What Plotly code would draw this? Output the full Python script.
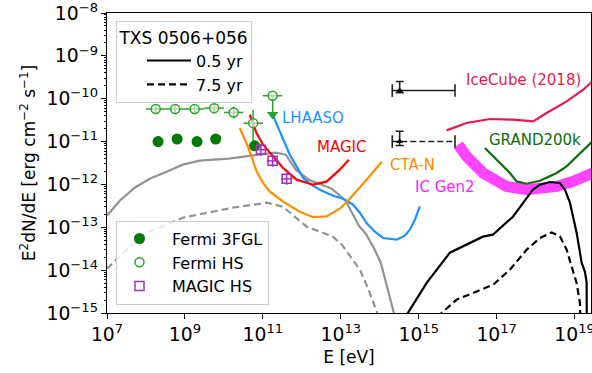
import numpy as np
import plotly.graph_objects as go

# ---------------- data: log10(E / eV), log10(E^2 dN/dE / erg cm^-2 s^-1) ----------------
gamma05_logE = [7.0, 7.326, 7.711, 8.096, 8.532, 8.943, 9.380, 10.123, 10.893, 11.330, 11.587,
                11.843, 12.177, 12.511, 12.768, 13.127, 13.281, 13.461, 13.641, 13.846, 14.026,
                14.180, 14.360, 14.437]
gamma05_logF = [-12.729, -12.379, -12.076, -11.866, -11.703, -11.539, -11.446, -11.399, -11.306,
                -11.259, -11.306, -11.656, -11.889, -12.006, -12.099, -12.379, -12.636, -12.963,
                -13.149, -13.476, -13.826, -14.363, -14.993, -15.389]

gamma75_logE = [7.0, 7.506, 8.096, 8.943, 10.227, 11.100, 11.511, 12.127, 12.795, 13.026, 13.231,
                13.488, 13.693, 13.924, 14.001]
gamma75_logF = [-13.966, -13.523, -13.103, -12.776, -12.543, -12.426, -12.519, -12.986, -13.219,
                -13.406, -13.663, -13.989, -14.409, -14.969, -15.272]

nu05_logE = [14.566, 14.720, 15.208, 15.798, 16.646, 16.902, 17.416, 17.929, 18.109, 18.366,
             18.622, 18.751, 18.879, 19.051, 19.180, 19.264, 19.308, 19.313]
nu05_logF = [-15.389, -15.0, -14.293, -13.593, -13.219, -13.173, -12.753, -12.123, -12.006, -11.943,
             -11.966, -12.123, -12.426, -13.126, -13.826, -14.036, -14.293, -15.389]

nu75_logE = [15.490, 15.585, 15.970, 16.569, 16.910, 17.339, 17.768, 18.109, 18.409, 18.622,
             18.795, 18.923, 19.051, 19.136, 19.154]
nu75_logF = [-15.389, -15.0, -14.689, -14.456, -14.339, -13.989, -13.523, -13.250, -13.119, -13.212,
             -13.523, -13.912, -14.300, -14.766, -15.389]

lhaaso_logE = [11.228, 11.357, 11.519, 11.691, 11.863, 12.032, 12.204, 12.461, 12.802, 13.059,
               13.316, 13.488, 13.660, 13.873, 14.086, 14.430, 14.643, 14.772, 14.900, 15.028]
lhaaso_logF = [-10.326, -10.606, -10.956, -11.306, -11.579, -11.843, -11.983, -12.123, -12.263,
               -12.333, -12.473, -12.659, -12.900, -13.103, -13.250, -13.289, -13.196, -13.056,
               -12.823, -12.512]

magic_logE = [10.664, 10.836, 11.005, 11.262, 11.519, 11.863, 12.289, 12.633, 12.974, 13.205]
magic_logF = [-10.373, -10.800, -11.073, -11.346, -11.616, -11.889, -12.006, -11.936, -11.656, -11.423]

cta_logE = [10.407, 10.579, 10.707, 10.836, 11.005, 11.177, 11.519, 11.947, 12.289, 12.633,
            12.974, 13.231, 13.660, 14.053]
cta_logF = [-10.683, -11.033, -11.346, -11.696, -11.966, -12.169, -12.403, -12.636, -12.764,
            -12.746, -12.566, -12.333, -11.889, -11.469]

icecube_logE = [15.714, 16.227, 16.825, 17.424, 17.937, 18.281, 18.795, 19.221, 19.418, 19.6]
icecube_logF = [-10.739, -10.566, -10.473, -10.490, -10.529, -10.333, -10.063, -9.790, -9.626, -9.47]

grand_logE = [16.697, 16.997, 17.339, 17.511, 17.768, 18.109, 18.538, 18.795, 19.221, 19.418, 19.6]
grand_logF = [-11.150, -11.423, -11.733, -11.929, -11.983, -11.913, -11.733, -11.579, -11.189,
              -11.026, -10.88]

gen2_logE = [16.012, 16.227, 16.653, 17.254, 17.768, 18.109, 18.538, 18.964, 19.418, 19.6]
gen2_logF = [-11.073, -11.346, -11.733, -12.046, -12.123, -12.099, -12.046, -11.929, -11.749, -11.68]

# Fermi 3FGL
fgl_logE = [8.31, 8.80, 9.31, 9.79, 10.79]
fgl_logF = [-11.00, -10.94, -11.00, -10.94, -11.10]
fgl_err_dex = [0.04, 0.04, 0.04, 0.04, 0.05]

# Fermi HS (high state)
hs_logE = [8.25, 8.75, 9.25, 9.75, 10.25, 10.75]
hs_logF = [-10.24, -10.24, -10.24, -10.22, -10.32, -10.57]
hs_err_up_dex = [0.11, 0.11, 0.11, 0.11, 0.14, 0.31]
hs_err_dn_dex = [0.12, 0.12, 0.12, 0.12, 0.14, 0.50]
hs_bin_dex = 0.25
hs_ul_logE = [11.25]
hs_ul_logF = [-9.93]
hs_ul_tip_logF = [-10.37]

# MAGIC HS
mhs_logE = [10.95, 11.25, 11.61]
mhs_logF = [-11.19, -11.45, -11.87]
mhs_bin_dex = 0.15
mhs_err_dex = 0.14

# IceCube TXS 0506+056 neutrino fluxes
ic_logE = [14.51, 14.51]
ic_logE_lo = [14.32, 14.32]
ic_logE_hi = [15.93, 15.93]
ic_logF = [-9.81, -11.00]
ic_logF_up = [-9.60, -10.76]
ic_logF_dn = [-9.86, -11.09]

# curve labels: (text, log10 E, log10 F, colour)
labels = [("LHAASO", 11.434, -10.443, "#1e90ff"),
          ("MAGIC", 12.332, -11.119, "#ff0000"),
          ("CTA-N", 14.207, -11.539, "#ff8c00"),
          ("IC Gen2", 14.841, -12.053, "#ff22ff"),
          ("IceCube (2018)", 16.158, -9.556, "#e8174f"),
          ("GRAND200k", 16.741, -10.956, "#0b6e0b")]

p = lambda a: 10 ** np.asarray(a, dtype=float)

FONT = "DejaVu Sans"
fig = go.Figure()

GRAY = "#939393"
fig.add_trace(go.Scatter(x=p(gamma05_logE), y=p(gamma05_logF), mode="lines",
                         line=dict(color=GRAY, width=2.2), showlegend=False, hoverinfo="skip"))
fig.add_trace(go.Scatter(x=p(gamma75_logE), y=p(gamma75_logF), mode="lines",
                         line=dict(color=GRAY, width=2.2, dash="7px,4px"), showlegend=False, hoverinfo="skip"))

# sensitivity curves
fig.add_trace(go.Scatter(x=p(gen2_logE), y=p(gen2_logF), mode="lines",
                         line=dict(color="#ff44ff", width=11), showlegend=False))
fig.add_trace(go.Scatter(x=p(lhaaso_logE), y=p(lhaaso_logF), mode="lines",
                         line=dict(color="#1e90ff", width=2.2), showlegend=False))
fig.add_trace(go.Scatter(x=p(cta_logE), y=p(cta_logF), mode="lines",
                         line=dict(color="#ff8c00", width=2.2), showlegend=False))
fig.add_trace(go.Scatter(x=p(magic_logE), y=p(magic_logF), mode="lines",
                         line=dict(color="#ff0000", width=2.2), showlegend=False))
fig.add_trace(go.Scatter(x=p(icecube_logE), y=p(icecube_logF), mode="lines",
                         line=dict(color="#e8174f", width=2.2), showlegend=False))
fig.add_trace(go.Scatter(x=p(grand_logE), y=p(grand_logF), mode="lines",
                         line=dict(color="#0b6e0b", width=2.2), showlegend=False))

# neutrino model curves (legend 1)
fig.add_trace(go.Scatter(x=p(nu05_logE), y=p(nu05_logF), mode="lines", name="0.5 yr",
                         line=dict(color="black", width=2.2), legend="legend"))
fig.add_trace(go.Scatter(x=p(nu75_logE), y=p(nu75_logF), mode="lines", name="7.5 yr",
                         line=dict(color="black", width=2.2, dash="7px,4px"), legend="legend"))

# IceCube measured fluxes
for i, dash in enumerate(["solid", "6px,3px"]):
    fig.add_trace(go.Scatter(x=p([ic_logE_lo[i], ic_logE_hi[i]]), y=p([ic_logF[i], ic_logF[i]]),
                             mode="lines+markers",
                             line=dict(color="#222222", width=1.6, dash=dash),
                             marker=dict(symbol="line-ns-open", size=9,
                                         line=dict(color="#222222", width=1.6)),
                             showlegend=False))
    E = p([ic_logE[i]])
    F = p([ic_logF[i]])
    fig.add_trace(go.Scatter(x=E, y=F, mode="markers",
                             marker=dict(symbol="triangle-up", size=6, color="black"),
                             error_y=dict(type="data", symmetric=False,
                                          array=p([ic_logF_up[i]]) - F,
                                          arrayminus=F - p([ic_logF_dn[i]]),
                                          color="#222222", thickness=1.6, width=4),
                             showlegend=False))

# Fermi HS
hsE = p(hs_logE)
hsF = p(hs_logF)
fig.add_trace(go.Scatter(
    x=hsE, y=hsF, mode="markers", name="Fermi HS", legend="legend2", legendrank=2,
    marker=dict(symbol="circle", size=9, color="rgba(255,255,255,0.6)",
                line=dict(color="#2ca02c", width=1.5)),
    error_x=dict(type="data", symmetric=False, array=hsE * (10 ** hs_bin_dex - 1),
                 arrayminus=hsE * (1 - 10 ** -hs_bin_dex), color="#2ca02c", thickness=1.5, width=0),
    error_y=dict(type="data", symmetric=False, array=hsF * (10 ** np.array(hs_err_up_dex) - 1),
                 arrayminus=hsF * (1 - 10 ** -np.array(hs_err_dn_dex)), color="#2ca02c",
                 thickness=1.5, width=0)))
ulE = p(hs_ul_logE)
ulF = p(hs_ul_logF)
fig.add_trace(go.Scatter(
    x=ulE, y=ulF, mode="markers", showlegend=False,
    marker=dict(symbol="circle", size=9, color="rgba(255,255,255,0.6)",
                line=dict(color="#2ca02c", width=1.5)),
    error_x=dict(type="data", symmetric=False, array=ulE * (10 ** hs_bin_dex - 1),
                 arrayminus=ulE * (1 - 10 ** -hs_bin_dex), color="#2ca02c", thickness=1.5, width=0),
    error_y=dict(type="data", symmetric=False, array=[0], arrayminus=ulF - p(hs_ul_tip_logF),
                 color="#2ca02c", thickness=1.5, width=0)))
fig.add_trace(go.Scatter(x=ulE, y=p(hs_ul_tip_logF), mode="markers", showlegend=False,
                         marker=dict(symbol="triangle-down", size=10, color="#2ca02c")))

# Fermi 3FGL
fE = p(fgl_logE)
fF = p(fgl_logF)
fig.add_trace(go.Scatter(
    x=fE, y=fF, mode="markers", name="Fermi 3FGL", legend="legend2", legendrank=1,
    marker=dict(symbol="circle", size=11, color="#007a00"),
    error_y=dict(type="data", symmetric=False, array=fF * (10 ** np.array(fgl_err_dex) - 1),
                 arrayminus=fF * (1 - 10 ** -np.array(fgl_err_dex)), color="#007a00",
                 thickness=1.5, width=3)))

# MAGIC HS
mE = p(mhs_logE)
mF = p(mhs_logF)
fig.add_trace(go.Scatter(
    x=mE, y=mF, mode="markers", name="MAGIC HS", legend="legend2", legendrank=3,
    marker=dict(symbol="square-open", size=9, color="#a030c0", line=dict(width=1.5)),
    error_x=dict(type="data", symmetric=False, array=mE * (10 ** mhs_bin_dex - 1),
                 arrayminus=mE * (1 - 10 ** -mhs_bin_dex), color="#a030c0", thickness=1.5, width=0),
    error_y=dict(type="data", symmetric=False, array=mF * (10 ** mhs_err_dex - 1),
                 arrayminus=mF * (1 - 10 ** -mhs_err_dex), color="#a030c0", thickness=1.5, width=0)))

for txt, lx, ly, col in labels:
    fig.add_annotation(x=lx, y=ly, xref="x", yref="y", text=txt, showarrow=False,
                       xanchor="left", yanchor="middle",
                       font=dict(family=FONT, size=15, color=col))

axis_common = dict(type="log", showgrid=False, zeroline=False, showline=True, linecolor="black",
                   linewidth=1, mirror=True, ticks="outside", ticklen=5, tickwidth=1,
                   tickcolor="black", exponentformat="power", showexponent="all",
                   automargin=False, ticklabeloverflow="allow",
                   tickfont=dict(family=FONT, size=15, color="black"))

fig.update_layout(
    width=592, height=373,
    margin=dict(l=107, r=1, t=13, b=60),
    paper_bgcolor="white", plot_bgcolor="white",
    font=dict(family=FONT, color="black"),
    xaxis=dict(range=[7, 19.42], dtick=2, tick0=1,
               title=dict(text="E [eV]", font=dict(family=FONT, size=17), standoff=7),
               **axis_common),
    yaxis=dict(range=[-15, -8], dtick=1,
               minor=dict(ticks="outside", ticklen=2.5, tickcolor="black", dtick="D1", showgrid=False),
               title=dict(text="E<sup>2</sup>dN/dE [erg cm<sup>−2</sup> s<sup>−1</sup>]",
                          font=dict(family=FONT, size=17), standoff=6),
               **axis_common),
    legend=dict(x=0.0186, y=0.975, xanchor="left", yanchor="top",
                bgcolor="rgba(255,255,255,0.8)", bordercolor="#cccccc", borderwidth=1,
                font=dict(family=FONT, size=16), indentation=25,
                title=dict(text="TXS 0506+056", side="top center", font=dict(family=FONT, size=17)),
                tracegroupgap=0, itemwidth=44),
    legend2=dict(x=0.0186, y=0.028, xanchor="left", yanchor="bottom",
                 bgcolor="rgba(255,255,255,0.8)", bordercolor="#cccccc", borderwidth=1,
                 font=dict(family=FONT, size=16), tracegroupgap=0, itemwidth=55,
                 indentation=-10),
)

# remove the default 8 px page margin so the 592x373 figure fills the window
fig.write_html("out.html", config={"displayModeBar": False},
               post_script="document.body.style.margin='0px';")
